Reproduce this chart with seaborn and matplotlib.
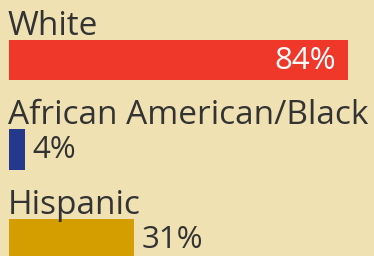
import pandas as pd
import matplotlib
matplotlib.use("Agg")
import matplotlib.pyplot as plt
import seaborn as sns
from matplotlib import transforms

groups = ["White", "African American/Black", "Hispanic"]
shares = [84, 4, 31]
colors = ["#EF3829", "#24388C", "#D49D00"]

bg = "#F0E1B3"
ink = "#333333"

df = pd.DataFrame({"group": groups, "share": shares})

sns.set_theme(style="white")
plt.rcParams["font.family"] = ["Open Sans", "DejaVu Sans"]

fig = plt.figure(figsize=(3.74, 2.56), dpi=100, facecolor=bg)
ax = fig.add_axes([0, 0, 1, 1])
ax.set_facecolor(bg)

sns.barplot(data=df, x="share", y="group", hue="group", palette=colors,
            legend=False, width=0.447, saturation=1, linewidth=0, ax=ax)

# pixel-ish layout: 9px left margin, ~4.04 px per percent
ax.set_xlim(-9 / 4.036, 365 / 4.036)
ax.set_ylim(196 / 89.5, -60 / 89.5)
ax.axis("off")

px = lambda dx, dy: transforms.offset_copy(ax.transData, fig=fig, x=dx, y=dy, units="dots")

for i, (g, v) in enumerate(zip(groups, shares)):
    # category label sits just above the bar
    ax.text(0, i - 0.2235, g, transform=px(-1, 5), ha="left", va="baseline",
            fontsize=24, color=ink)
    if v > 50:
        ax.text(v, i, f"{v}%", transform=px(-12, -1), ha="right", va="center",
                fontsize=22.5, color="white")
    else:
        ax.text(v, i, f"{v}%", transform=px(7, -1), ha="left", va="center",
                fontsize=22.5, color=ink)

plt.savefig("out.png", dpi=100, facecolor=bg)
